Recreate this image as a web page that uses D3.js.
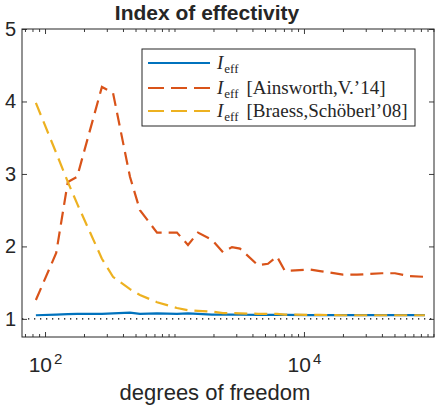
<!DOCTYPE html>
<html lang="en">
<head>
<meta charset="UTF-8">
<title>Index of effectivity</title>
<script src="https://d3js.org/d3.v7.min.js"></script>
<style>
  body { margin: 0; background: #fff; }
  text { font-family: "Liberation Sans", Arial, Helvetica, sans-serif; fill: #262626; }
</style>
</head>
<body>
<script>
// degrees of freedom (adaptive meshes)
const dof = [85, 122, 150, 177, 275, 335, 453, 541, 733, 1045, 1271, 1518, 1949, 2369,
             2780, 3204, 4416, 5272, 6187, 7130, 11125, 13300, 20000, 25650, 40000, 50450, 65900, 85900];
const ieff = [1.05, 1.06, 1.065, 1.07, 1.07, 1.075, 1.085, 1.07, 1.075, 1.07, 1.075, 1.07, 1.06, 1.06,
              1.058, 1.057, 1.055, 1.055, 1.055, 1.055, 1.053, 1.053, 1.052, 1.052, 1.052, 1.052, 1.052, 1.052];
const ieffAinsworth = [1.26, 1.91, 2.89, 2.96, 4.20, 4.12, 2.96, 2.50, 2.19, 2.19, 2.02, 2.19, 2.09, 1.92,
                       1.99, 1.97, 1.74, 1.76, 1.86, 1.66, 1.68, 1.66, 1.61, 1.61, 1.63, 1.63, 1.59, 1.58];
const ieffBraess = [3.98, 3.29, 2.89, 2.59, 1.83, 1.58, 1.41, 1.33, 1.23, 1.15, 1.12, 1.11, 1.10, 1.08,
                    1.08, 1.076, 1.07, 1.07, 1.07, 1.06, 1.055, 1.055, 1.05, 1.05, 1.05, 1.05, 1.05, 1.05];
const yTicks = [1, 2, 3, 4, 5];
const xMajor = [2, 4]; // exponents of labelled decades

const W = 438, H = 409;
const L = 22, R = 434, T = 29, B = 337;

const svg = d3.select("body").append("svg")
  .attr("width", W).attr("height", H);

const x = d3.scaleLog().domain([66.4, 1.01e5]).range([L, R]);
const y = d3.scaleLinear().domain([0.75, 5]).range([B, T]);

// minor ticks: every 1..9 x 10^k inside the domain, except labelled decades
const xMinor = [];
for (let k = 1; k <= 5; k++) {
  for (let m = 1; m <= 9; m++) {
    const v = m * Math.pow(10, k);
    if (v >= x.domain()[0] && v <= x.domain()[1] && !(m === 1 && xMajor.includes(k))) xMinor.push(v);
  }
}
const xMajorVals = xMajor.map(e => Math.pow(10, e));

// reference line y = 1
svg.append("line")
  .attr("x1", L).attr("x2", R)
  .attr("y1", y(1)).attr("y2", y(1))
  .attr("stroke", "#000").attr("stroke-width", 1.2)
  .attr("stroke-dasharray", "1.3,4.7");

const line = vals => d3.line()
  .x((d, i) => x(dof[i]))
  .y(d => y(d))(vals);

const series = [
  { vals: ieff, color: "#0072BD", dash: null },
  { vals: ieffAinsworth, color: "#D95319", dash: "13,7" },
  { vals: ieffBraess, color: "#EDB120", dash: "13,7" }
];

series.forEach(s => {
  svg.append("path")
    .attr("d", line(s.vals))
    .attr("fill", "none")
    .attr("stroke", s.color)
    .attr("stroke-width", 2.2)
    .attr("stroke-dasharray", s.dash);
});

// axes (ticks pointing inward, box on all sides)
function styleAxis(g) {
  g.select(".domain").remove();
  g.selectAll(".tick line").attr("stroke", "#262626").attr("stroke-width", 0.9);
}

svg.append("g").attr("transform", `translate(0,${B})`)
  .call(d3.axisBottom(x).tickValues(xMinor).tickSize(-3).tickFormat(""))
  .call(styleAxis);
svg.append("g").attr("transform", `translate(0,${T})`)
  .call(d3.axisTop(x).tickValues(xMinor).tickSize(-3).tickFormat(""))
  .call(styleAxis);
svg.append("g").attr("transform", `translate(0,${T})`)
  .call(d3.axisTop(x).tickValues(xMajorVals).tickSize(-5).tickFormat(""))
  .call(styleAxis);

const xb = svg.append("g").attr("transform", `translate(0,${B})`)
  .call(d3.axisBottom(x).tickValues(xMajorVals).tickSize(-5).tickPadding(0).tickFormat(""))
  .call(styleAxis);
xb.selectAll(".tick").each(function (d) {
  const t = d3.select(this).append("text")
    .attr("x", 0).attr("y", 35)
    .attr("text-anchor", "middle")
    .attr("font-size", 21);
  t.append("tspan").text("10");
  t.append("tspan").attr("font-size", 15).attr("dy", -8).attr("dx", 2)
    .text(Math.round(Math.log10(d)));
});

svg.append("g").attr("transform", `translate(${L},0)`)
  .call(d3.axisLeft(y).tickValues(yTicks).tickSize(-5).tickPadding(6).tickFormat(d3.format("d")))
  .call(styleAxis)
  .call(g => g.selectAll(".tick text").attr("font-size", 20).attr("fill", "#262626")
    .style("font-family", "'Liberation Sans', Arial, sans-serif"));
svg.append("g").attr("transform", `translate(${R},0)`)
  .call(d3.axisRight(y).tickValues(yTicks).tickSize(-5).tickFormat(""))
  .call(styleAxis);

svg.append("rect")
  .attr("x", L).attr("y", T).attr("width", R - L).attr("height", B - T)
  .attr("fill", "none").attr("stroke", "#262626").attr("stroke-width", 1);

// title and label
svg.append("text")
  .attr("x", 207).attr("y", 20)
  .attr("text-anchor", "middle")
  .attr("font-size", 21).attr("font-weight", "bold")
  .attr("fill", "#000")
  .text("Index of effectivity");

svg.append("text")
  .attr("x", 215).attr("y", 400)
  .attr("text-anchor", "middle")
  .attr("font-size", 22)
  .text("degrees of freedom");

// legend
const lg = svg.append("g");
lg.append("rect")
  .attr("x", 142).attr("y", 49).attr("width", 273).attr("height", 77)
  .attr("fill", "#fff").attr("stroke", "#262626").attr("stroke-width", 1);

const legendLabels = ["", "[Ainsworth,V.\u201914]", "[Braess,Sch\u00f6berl\u201908]"];
const legendY = [63, 88, 111];

series.forEach((s, i) => {
  lg.append("line")
    .attr("x1", 148).attr("x2", 210)
    .attr("y1", legendY[i]).attr("y2", legendY[i])
    .attr("stroke", s.color).attr("stroke-width", 2.2)
    .attr("stroke-dasharray", s.dash ? "16,7" : null);
  const t = lg.append("text")
    .attr("x", 217).attr("y", legendY[i] + 6)
    .attr("font-size", 19)
    .style("font-family", "'Liberation Serif', 'DejaVu Serif', serif")
    .attr("fill", "#000");
  t.append("tspan").attr("font-style", "italic").text("I");
  t.append("tspan").attr("font-size", 13).attr("dy", 4).attr("dx", 1).text("eff");
  if (legendLabels[i]) t.append("tspan").attr("dy", -4).attr("dx", 8).text(legendLabels[i]);
});
</script>
</body>
</html>
